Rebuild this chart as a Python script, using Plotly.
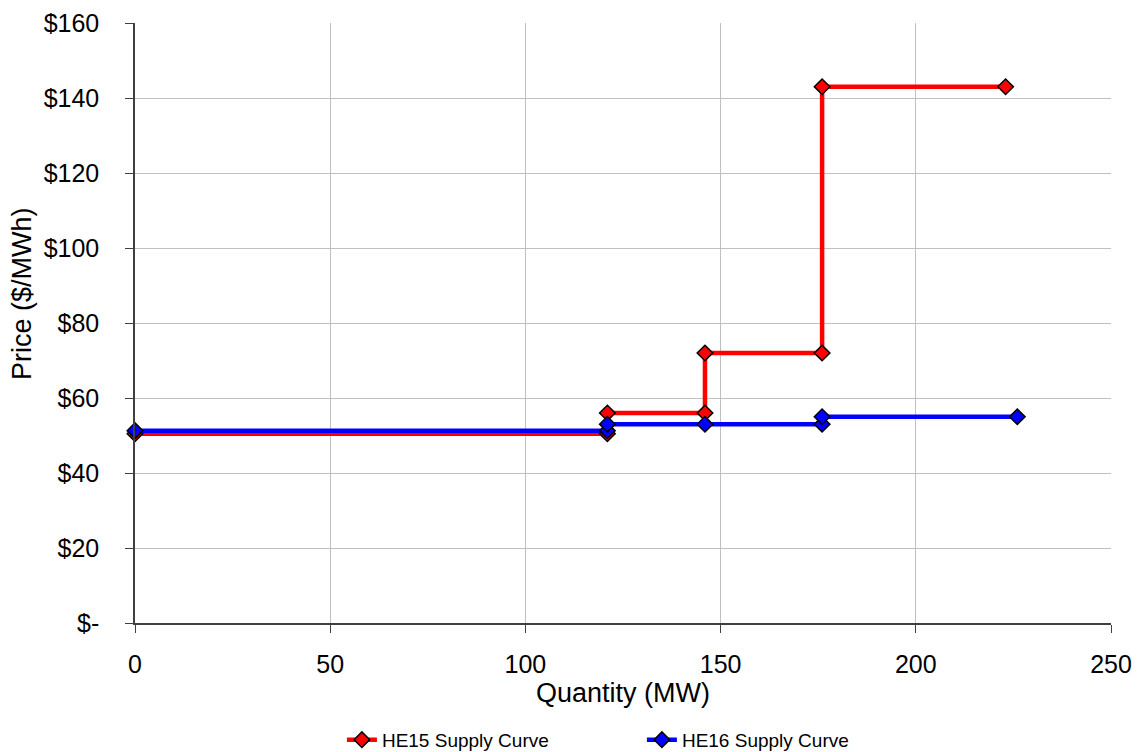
import plotly.graph_objects as go

# Supply curve steps (quantity in MW, price in $/MWh)
he15_qty = [0, 121, 121, 146, 146, 176, 176, 223]
he15_price = [50.5, 50.5, 56, 56, 72, 72, 143, 143]

he16_qty = [0, 121, 121, 146, 176, 176, 226]
he16_price = [51.3, 51.3, 53, 53, 53, 55, 55]

y_ticks = [0, 20, 40, 60, 80, 100, 120, 140, 160]
y_tick_labels = ["$-", "$20", "$40", "$60", "$80", "$100", "$120", "$140", "$160"]
x_ticks = [0, 50, 100, 150, 200, 250]

font_family = "Liberation Sans"

fig = go.Figure()
fig.add_trace(go.Scatter(
    x=he15_qty, y=he15_price, mode="lines+markers", name="HE15 Supply Curve",
    line=dict(color="#ff0000", width=4.5), cliponaxis=False,
    marker=dict(symbol="diamond", size=12, color="#ff0000",
                line=dict(color="black", width=1.5)),
))
fig.add_trace(go.Scatter(
    x=he16_qty, y=he16_price, mode="lines+markers", name="HE16 Supply Curve",
    line=dict(color="#0000ff", width=4.5), cliponaxis=False,
    marker=dict(symbol="diamond", size=12, color="#0000ff",
                line=dict(color="black", width=1.5)),
))

fig.update_layout(
    width=1137, height=752,
    margin=dict(l=135, r=26, t=23, b=129, autoexpand=False),
    paper_bgcolor="white", plot_bgcolor="white",
    font=dict(family=font_family, size=25, color="black"),
    legend=dict(orientation="h", x=0.212, xanchor="left", y=-0.163, yanchor="top",
                font=dict(size=19), entrywidth=255, entrywidthmode="pixels",
                traceorder="normal"),
    showlegend=True,
    # vertical axis title placed as free text, slightly above the axis middle
    annotations=[dict(
        text="Price ($/MWh)", textangle=-90, xref="paper", yref="paper",
        x=-0.1158, y=0.55, xanchor="center", yanchor="middle", showarrow=False,
        font=dict(size=27),
    )],
)
fig.update_xaxes(
    range=[0, 250], tickvals=x_ticks, showgrid=True, gridcolor="#c0c0c0", gridwidth=1,
    showline=True, linecolor="#404040", linewidth=1.5,
    ticks="outside", ticklen=8, tickcolor="#404040", ticklabelstandoff=10,
    title=dict(text="Quantity (MW)", standoff=4, font=dict(size=27)),
    zeroline=False, automargin=False,
)
fig.update_yaxes(
    range=[0, 160], tickvals=y_ticks, ticktext=y_tick_labels,
    showgrid=True, gridcolor="#c0c0c0", gridwidth=1,
    showline=True, linecolor="#404040", linewidth=1.5,
    ticks="outside", ticklen=8, tickcolor="#404040", ticklabelstandoff=21,
    zeroline=False, automargin=False,
)

fig.write_html("out.html")
